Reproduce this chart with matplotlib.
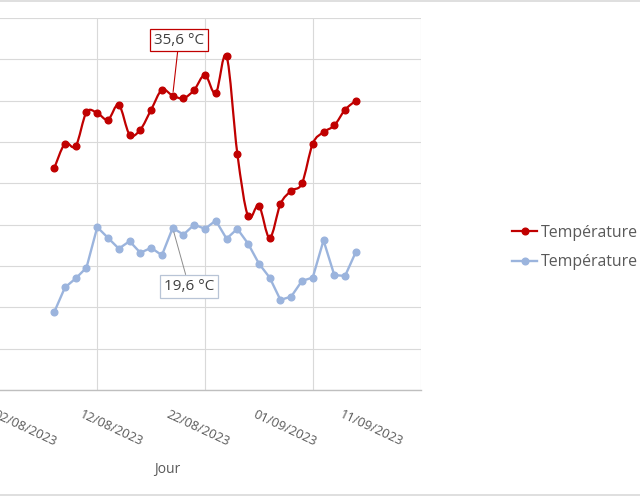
import matplotlib
matplotlib.use("Agg")
import matplotlib.pyplot as plt
import matplotlib.dates as mdates
from matplotlib.path import Path
from matplotlib.patches import PathPatch
from matplotlib.lines import Line2D
import numpy as np
import datetime as dt

# ---------------- data ----------------
days = ["2023-08-08", "2023-08-09", "2023-08-10", "2023-08-11", "2023-08-12",
        "2023-08-13", "2023-08-14", "2023-08-15", "2023-08-16", "2023-08-17",
        "2023-08-18", "2023-08-19", "2023-08-20", "2023-08-21", "2023-08-22",
        "2023-08-23", "2023-08-24", "2023-08-25", "2023-08-26", "2023-08-27",
        "2023-08-28", "2023-08-29", "2023-08-30", "2023-08-31", "2023-09-01",
        "2023-09-02", "2023-09-03", "2023-09-04", "2023-09-05"]
temp_max = [26.8, 29.8, 29.5, 33.6, 33.5, 32.7, 34.5, 30.9, 31.5, 33.9,
            36.3, 35.6, 35.3, 36.3, 38.1, 35.9, 40.4, 28.6, 21.0, 22.3,
            18.4, 22.5, 24.1, 25.0, 29.8, 31.2, 32.0, 33.9, 35.0]
temp_min = [9.4, 12.4, 13.5, 14.8, 19.7, 18.4, 17.1, 18.0, 16.6, 17.2,
            16.3, 19.6, 18.8, 20.0, 19.5, 20.5, 18.3, 19.5, 17.7, 15.3,
            13.6, 10.9, 11.3, 13.2, 13.6, 18.1, 13.9, 13.8, 16.7]
tick_days = ["2023-08-02", "2023-08-12", "2023-08-22", "2023-09-01", "2023-09-11"]
tick_labels = ["02/08/2023", "12/08/2023", "22/08/2023", "01/09/2023", "11/09/2023"]
series_names = ["Température", "Température"]
x_title = "Jour"
label_max = "35,6 °C"
label_min = "19,6 °C"
label_index = 11

# ---------------- style ----------------
FONT = ["Open Sans", "DejaVu Sans"]
plt.rcParams["font.family"] = FONT
RED = "#C00000"
BLUE = "#9BB4DD"
GRID = "#D9D9D9"
TXT = "#595959"

x = mdates.date2num([dt.datetime.strptime(d, "%Y-%m-%d") for d in days])
xt = mdates.date2num([dt.datetime.strptime(d, "%Y-%m-%d") for d in tick_days])
x0, x1 = xt[0], xt[-1]

fig = plt.figure(figsize=(6.4, 4.96), dpi=100)
W, H = 640, 496
left_px, right_px, top_px, bot_px = -10.5, 420.5, 18, 390
ax = fig.add_axes([left_px / W, 1 - bot_px / H, (right_px - left_px) / W, (bot_px - top_px) / H])

ax.set_xlim(x0, x1)
ax.set_ylim(0, 45)
ax.set_xticks(xt)
ax.set_yticks(np.arange(0, 46, 5))
ax.grid(True, color=GRID, lw=0.8)
ax.set_axisbelow(True)
for s in ["left", "right", "top"]:
    ax.spines[s].set_visible(False)
ax.spines["bottom"].set_color("#BFBFBF")
ax.spines["bottom"].set_linewidth(1.0)
ax.tick_params(axis="both", length=0, labelbottom=False, labelleft=False)

# smoothed red line (bezier through data points)
px, py = np.asarray(x, float), np.asarray(temp_max, float)
P = np.column_stack([px, py])
Pext = np.vstack([P[0], P, P[-1]])
verts = [tuple(P[0])]
codes = [Path.MOVETO]
for i in range(1, len(Pext) - 2):
    p0, p1, p2, p3 = Pext[i - 1], Pext[i], Pext[i + 1], Pext[i + 2]
    c1 = p1 + (p2 - p0) / 6.0
    c2 = p2 - (p3 - p1) / 6.0
    verts += [tuple(c1), tuple(c2), tuple(p2)]
    codes += [Path.CURVE4] * 3
ax.add_patch(PathPatch(Path(verts, codes), fill=False, edgecolor=RED, lw=1.6, zorder=3,
                       capstyle="round", joinstyle="round"))
ax.plot(x, temp_max, ls="none", marker="o", ms=4.8, color=RED, zorder=4)

ax.plot(x, temp_min, color=BLUE, lw=1.7, marker="o", ms=4.8, zorder=3)

# data labels
ax.annotate(label_max, xy=(x[label_index], temp_max[label_index]),
            xytext=(4.5, 40), textcoords="offset points", ha="center", va="center",
            fontsize=11, color="#404040",
            bbox=dict(boxstyle="square,pad=0.25", fc="white", ec=RED, lw=0.9),
            arrowprops=dict(arrowstyle="-", color=RED, lw=0.8, shrinkA=0, shrinkB=3),
            zorder=6)
ax.annotate(label_min, xy=(x[label_index], temp_min[label_index]),
            xytext=(11.7, -42), textcoords="offset points", ha="center", va="center",
            fontsize=11, color="#404040",
            bbox=dict(boxstyle="square,pad=0.25", fc="white", ec="#B8C4D6", lw=0.9),
            arrowprops=dict(arrowstyle="-", color="#8C8C8C", lw=0.7, shrinkA=0, shrinkB=3),
            zorder=6)

# rotated date labels (spaced as in reference)
a_off, k_sc = 3.269, 0.8051
def fwd(m):
    return x0 + (np.asarray(m) - x0 - a_off) / k_sc
def inv(d):
    return x0 + a_off + k_sc * (np.asarray(d) - x0)
sec = ax.secondary_xaxis("bottom", functions=(fwd, inv))
sec.spines["bottom"].set_visible(False)
sec.set_xticks(xt)
sec.set_xticklabels(tick_labels)
sec.tick_params(axis="x", length=0, pad=13, labelrotation=-25, labelsize=9.3, labelcolor=TXT)

ax.set_xlabel(x_title, fontsize=10, color=TXT, va="center")
ax.xaxis.set_label_coords((167 - left_px) / (right_px - left_px), (bot_px - 469) / (bot_px - top_px))

# legend
handles = [Line2D([], [], color=RED, lw=1.6, marker="o", ms=4.8),
           Line2D([], [], color=BLUE, lw=1.7, marker="o", ms=4.8)]
fig.legend(handles, series_names, loc="center left", bbox_to_anchor=(512 / W, 1 - 247.5 / H),
           bbox_transform=fig.transFigure, frameon=False, fontsize=11.4, labelcolor=TXT,
           handlelength=1.6, handletextpad=0.2, labelspacing=0.88, borderpad=0, borderaxespad=0)

# outer chart border lines (top and bottom)
fig.add_artist(Line2D([0, 1], [1 - 0.5 / H, 1 - 0.5 / H], transform=fig.transFigure, color=GRID, lw=1.2))
fig.add_artist(Line2D([0, 1], [1 - 495 / H, 1 - 495 / H], transform=fig.transFigure, color=GRID, lw=1.2))

fig.savefig("out.png", dpi=100)
